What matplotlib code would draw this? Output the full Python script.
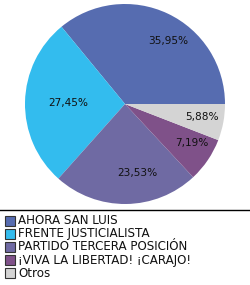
import numpy as np
import matplotlib.pyplot as plt
from matplotlib.patches import Rectangle

parties = ['AHORA SAN LUIS', 'FRENTE JUSTICIALISTA', 'PARTIDO TERCERA POSICIÓN',
           '¡VIVA LA LIBERTAD! ¡CARAJO!', 'Otros']
shares = [35.95, 27.45, 23.53, 7.19, 5.88]
colors = ['#566CB0', '#33BCEE', '#6F6AA3', '#7F5189', '#D4D4D4']

# where each percent label sits: fraction of radius, angle shift in degrees
label_r = [0.76, 0.57, 0.70, 0.77, 0.78]
label_shift = [-9, 0, 10, 4, 1]

plt.rcParams['font.family'] = ['DejaVu Sans']
W, H = 250, 285

fig = plt.figure(figsize=(W / 100, H / 100), dpi=100)
ax = fig.add_axes([25 / W, 1 - 204 / H, 200 / W, 200 / H])

wedges, _, autotexts = ax.pie(shares, colors=colors, startangle=0, counterclock=True,
                              autopct=lambda p: f'{p:.2f}%'.replace('.', ','),
                              textprops={'fontsize': 7.6, 'color': '#111111'},
                              wedgeprops={'linewidth': 0})
ax.set_xlim(-1, 1)
ax.set_ylim(-1, 1)
ax.set_aspect('equal')

for t, w, r, s in zip(autotexts, wedges, label_r, label_shift):
    ang = np.deg2rad((w.theta1 + w.theta2) / 2 + s)
    t.set_position((r * np.cos(ang), r * np.sin(ang)))
    t.set_ha('center')
    t.set_va('center')

# separator line above legend
fig.add_artist(plt.Line2D([0, 1], [1 - 209.5 / H] * 2, color='black', lw=1))

# legend rows, drawn by hand (pixel layout)
for i, (name, c) in enumerate(zip(parties, colors)):
    yc = 220.5 + 13.2 * i
    fig.add_artist(Rectangle((5 / W, 1 - (yc + 5) / H), 10 / W, 10 / H,
                             facecolor=c, edgecolor='#333333', lw=0.8,
                             transform=fig.transFigure))
    fig.text(18 / W, 1 - yc / H, name, fontsize=8.6, color='#111111',
             ha='left', va='center')

fig.savefig('out.png', dpi=100)
